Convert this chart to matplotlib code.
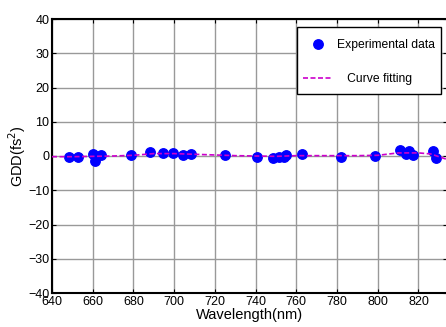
import matplotlib
matplotlib.use("Agg")
import matplotlib.pyplot as plt
from matplotlib.patches import Rectangle

plt.rcParams['font.family'] = ['Liberation Sans', 'DejaVu Sans']

# Experimental data
wl_exp = [648.5, 652.6, 660.1, 661.1, 664.1, 678.7, 688.3, 694.7, 699.3, 704.4,
          708.3, 725.2, 740.6, 748.4, 751.7, 753.7, 755.1, 762.8, 781.8, 798.5,
          811.1, 813.8, 815.3, 817.2, 826.9, 828.4]
gdd_exp = [-0.3, -0.2, 0.5, -1.4, 0.3, 0.3, 1.2, 0.8, 1.0, 0.3,
           0.6, 0.3, -0.2, -0.7, -0.3, -0.2, 0.4, 0.6, -0.2, 0.0,
           1.8, 0.6, 1.4, 0.2, 1.5, -0.7]

# Curve fitting
wl_fit = [640, 650, 660, 670, 680, 690, 700, 710, 720, 730, 740, 750, 760,
          770, 780, 790, 800, 810, 820, 826, 834]
gdd_fit = [-0.2, -0.2, -0.1, 0.0, 0.2, 0.7, 0.7, 0.5, 0.3, 0.1, 0.0, -0.1, 0.1,
           0.1, 0.1, 0.1, 0.2, 0.9, 0.9, 0.6, -1.0]

xticks = [640, 660, 680, 700, 720, 740, 760, 780, 800, 820]
yticks = [-40, -30, -20, -10, 0, 10, 20, 30, 40]

W, H = 446, 327
fig = plt.figure(figsize=(W/100, H/100), dpi=100)
ax = fig.add_axes([52/W, 34/H, 395/W, 274/H])

ax.plot(wl_exp, gdd_exp, 'o', color='#0000FF', markersize=6.8, label='Experimental data', zorder=3)
ax.plot(wl_fit, gdd_fit, '--', color='#CC00CC', linewidth=1.2, dashes=(3, 1.5),
        label='   Curve fitting', zorder=4)

ax.set_xlim(640, 834)
ax.set_ylim(-40, 40)
ax.set_xticks(xticks)
ax.set_yticks(yticks)
ax.grid(True, color='#999999', linewidth=1.0, linestyle='-')
ax.set_axisbelow(True)
ax.tick_params(direction='in', top=True, right=True, length=3, labelsize=9, pad=2)
for s in ax.spines.values():
    s.set_linewidth(1.5)
ax.spines['right'].set_visible(False)

ax.set_xlabel('Wavelength(nm)', fontsize=10.5, labelpad=0)
ax.set_ylabel('GDD(fs$^2$)', fontsize=10.5, labelpad=0)

# legend frame
ax.add_patch(Rectangle((297/W, (H-94)/H), 144/W, 67/H, transform=fig.transFigure,
                       facecolor='white', edgecolor='black', linewidth=1.0, zorder=5,
                       clip_on=False))
leg = ax.legend(loc='upper left', bbox_to_anchor=(303/W, (H-39)/H), bbox_transform=fig.transFigure,
                fontsize=8.7, frameon=False, borderpad=0, borderaxespad=0,
                labelspacing=1.85, handlelength=2.5, handletextpad=0.33)
leg.set_zorder(6)

fig.savefig('out.png', dpi=100)
